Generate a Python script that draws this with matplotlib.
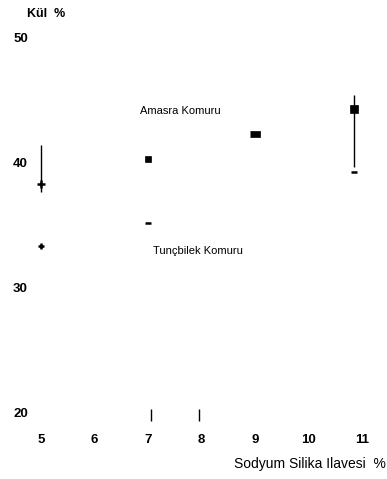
import matplotlib
matplotlib.use("Agg")
import matplotlib.pyplot as plt

# Sodyum silika ilavesi (%) ve kül (%) değerleri
amasra_x = [5, 7, 9, 10.85]
amasra_y = [38.3, 40.3, 42.3, 44.3]

tuncbilek_x = [5, 7, 10.85]
tuncbilek_y = [33.3, 35.2, 39.2]

# hata çubukları
err_x = [5, 10.85]
err_low = [37.6, 39.6]
err_high = [41.4, 45.4]

# alt kısımdaki küçük işaretler
tick_x = [7.05, 7.95]
tick_y = [19.8, 19.8]

x_ticks = [5, 6, 7, 8, 9, 10, 11]
y_ticks = [20, 30, 40, 50]

plt.rcParams["font.family"] = ["Liberation Sans", "DejaVu Sans"]

fig = plt.figure(figsize=(3.87, 4.79), dpi=100)
ax = fig.add_axes([0.0506, 0.1117, 0.940, 0.837])

ax.vlines(err_x, err_low, err_high, color="black", linewidth=1.0)

rect = [(-1, -0.55), (1, -0.55), (1, 0.55), (-1, 0.55)]
amasra_markers = ["+", "s", rect, "s"]
amasra_sizes = [6, 4, 7, 6]
for x, y, m, s in zip(amasra_x, amasra_y, amasra_markers, amasra_sizes):
    ax.plot(x, y, marker=m, markersize=s, color="black",
            markeredgewidth=1.8 if m == "+" else 0.5, linestyle="none")

tuncbilek_markers = ["+", "_", "_"]
for x, y, m in zip(tuncbilek_x, tuncbilek_y, tuncbilek_markers):
    ax.plot(x, y, marker=m, markersize=5, color="black",
            markeredgewidth=1.8, linestyle="none")

ax.plot(tick_x, tick_y, marker="|", markersize=8, color="black",
        markeredgewidth=1.0, linestyle="none")

ax.text(6.85, 44.1, "Amasra Komuru", fontsize=8, va="center")
ax.text(7.1, 32.9, "Tunçbilek Komuru", fontsize=8, va="center")

ax.set_xlim(4.6, 11.4)
ax.set_ylim(19, 51)
ax.set_xticks(x_ticks)
ax.set_yticks(y_ticks)
ax.tick_params(axis="both", length=0, labelsize=9.5)
ax.tick_params(axis="y", pad=-6)
ax.tick_params(axis="x", pad=6)
for lbl in ax.get_xticklabels() + ax.get_yticklabels():
    lbl.set_fontweight("bold")
for sp in ax.spines.values():
    sp.set_visible(False)

fig.text(27 / 387, 1 - 14 / 479, "Kül  %", fontsize=9, va="center",
         fontweight="bold")
fig.text(386 / 387, 1 - 464 / 479, "Sodyum Silika Ilavesi  %", fontsize=10,
         va="center", ha="right")

fig.savefig("out.png", dpi=100)
